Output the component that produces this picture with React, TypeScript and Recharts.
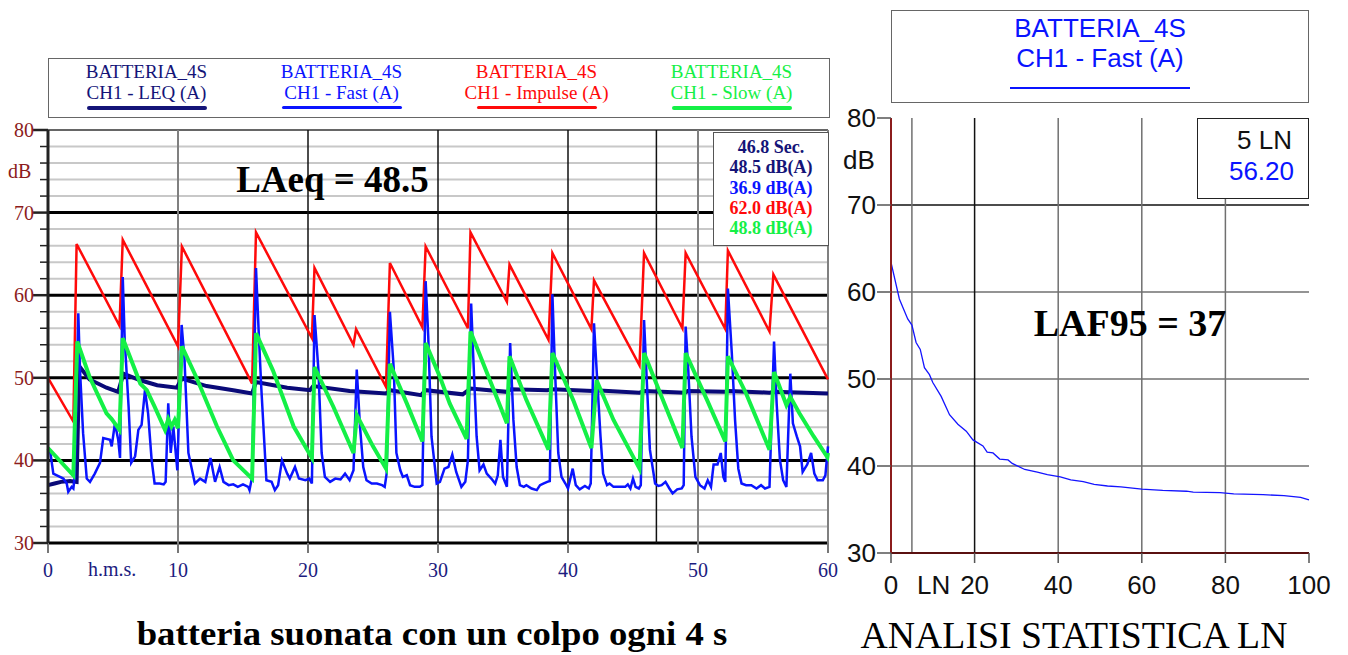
import { CartesianGrid, Line, LineChart, XAxis, YAxis } from 'recharts'

// ---- left chart: time history (t in seconds, level in dB)
const leqPoints = [
  [0, 37.0], [0.5, 37.2], [1.0, 37.4], [1.7, 37.5], [2.2, 37.4], [2.4, 51.4], [3.2, 49.8], [4.5, 48.8],
  [5.4, 48.3], [5.8, 50.5], [7.1, 49.7], [8.4, 49.1], [9.9, 48.8], [10.3, 49.9], [12.2, 49.0], [14.25, 48.5],
  [15.7, 48.1], [16.0, 49.5], [18.4, 48.8], [20.15, 48.5], [20.4, 49.0], [23.2, 48.4], [26.0, 48.1], [26.3, 48.5],
  [28.7, 47.9], [29.05, 48.5], [31.9, 48.0], [32.5, 48.7], [35.3, 48.3], [35.6, 48.6], [38.4, 48.5], [38.8, 48.6],
  [41.9, 48.4], [42.1, 48.5], [45.5, 48.2], [45.9, 48.4], [49.0, 48.2], [49.2, 48.4], [52.1, 48.3], [52.4, 48.4],
  [55.5, 48.2], [55.9, 48.3], [60, 48.1],
]

const impulsePoints = [
  [0, 50.0], [1.95, 44.7], [2.2, 66.2], [5.5, 56.3], [5.75, 66.7], [10.0, 53.8], [10.3, 65.9], [15.7, 49.3],
  [16.0, 67.6], [20.3, 54.8], [20.5, 63.3], [23.5, 54.0], [23.7, 55.9], [26.0, 48.9], [26.3, 63.9], [28.8, 56.1],
  [29.05, 65.9], [32.3, 56.0], [32.5, 67.6], [35.3, 59.2], [35.5, 63.7], [38.5, 54.6], [38.8, 65.1], [41.8, 55.9],
  [42.0, 61.8], [45.5, 51.5], [45.85, 65.1], [48.8, 56.0], [49.05, 65.1], [52.1, 55.9], [52.3, 65.4], [55.5, 55.6],
  [55.8, 62.5], [60, 49.8],
]

const slowPoints = [
  [0, 41.5], [1.95, 38.2], [2.25, 54.4], [3.2, 50.1], [4.5, 45.7], [4.9, 45.0], [5.5, 43.7], [5.75, 54.8],
  [7.1, 49.3], [7.6, 48.5], [8.2, 46.5], [9.0, 43.7], [9.25, 45.0], [9.5, 44.1], [9.75, 44.9], [10.0, 43.9],
  [10.3, 53.8], [11.4, 50.1], [13.0, 44.1], [14.25, 40.0], [15.7, 37.8], [16.0, 55.4], [17.3, 50.9], [18.9, 44.1],
  [20.3, 40.3], [20.5, 51.3], [21.95, 46.5], [23.5, 40.9], [23.75, 45.5], [25.0, 41.7], [26.0, 39.0], [26.3, 51.7],
  [27.6, 46.9], [28.8, 42.3], [29.05, 54.2], [30.15, 50.1], [30.9, 46.9], [32.2, 42.6], [32.5, 55.6], [34.3, 48.5],
  [35.3, 44.5], [35.5, 52.6], [36.8, 47.3], [38.5, 41.3], [38.8, 53.0], [40.4, 47.3], [41.8, 41.5], [42.2, 49.7],
  [43.5, 44.9], [45.5, 39.0], [45.85, 53.0], [47.1, 48.1], [48.8, 41.5], [49.05, 53.0], [50.7, 47.3], [52.1, 42.3],
  [52.3, 52.6], [53.7, 48.1], [55.5, 41.3], [55.85, 50.7], [56.8, 46.7], [57.1, 47.7], [57.8, 45.7], [58.9, 42.9],
  [59.95, 40.4], [60, 40.9],
]

const fastPoints = [
  [0.15, 41.3], [0.41, 38.4], [0.92, 38.0], [1.18, 37.8], [1.44, 37.2], [1.56, 36.2], [1.82, 36.8], [1.95, 36.6],
  [2.05, 38.0], [2.33, 57.8], [2.46, 51.0], [2.7, 43.3], [2.98, 37.8], [3.23, 37.4], [3.6, 38.4], [4.0, 39.7],
  [4.25, 42.7], [4.77, 42.5], [4.9, 41.7], [5.15, 44.5], [5.4, 42.5], [5.54, 40.3], [5.75, 62.2], [5.9, 54.6],
  [6.2, 46.5], [6.4, 39.7], [6.7, 40.5], [6.95, 43.7], [7.2, 44.3], [7.46, 48.5], [7.7, 45.7], [7.97, 40.1],
  [8.2, 37.2], [8.6, 37.2], [8.9, 37.1], [9.05, 37.4], [9.25, 46.9], [9.44, 40.9], [9.64, 44.1], [9.95, 38.8],
  [10.28, 56.4], [10.5, 52.2], [10.8, 40.9], [11.3, 37.2], [11.7, 37.8], [12.1, 37.4], [12.5, 40.3], [12.85, 37.4],
  [13.2, 39.2], [13.5, 37.4], [13.9, 37.0], [14.25, 37.1], [14.6, 36.8], [15.0, 37.1], [15.4, 36.8], [15.5, 36.4],
  [15.7, 38.0], [16.0, 63.3], [16.2, 55.8], [16.4, 49.0], [16.8, 37.6], [17.2, 37.4], [17.45, 36.4], [17.7, 37.0],
  [18.0, 40.0], [18.4, 38.4], [18.6, 37.8], [19.0, 39.2], [19.3, 37.8], [19.8, 37.6], [20.1, 37.8], [20.3, 37.2],
  [20.5, 57.6], [20.8, 51.0], [21.05, 40.9], [21.3, 38.0], [21.7, 37.4], [22.1, 37.8], [22.5, 37.7], [22.85, 38.4],
  [23.2, 37.6], [23.5, 38.8], [23.75, 51.0], [24.0, 44.1], [24.25, 39.2], [24.5, 37.6], [24.9, 37.2], [25.3, 37.2],
  [25.7, 37.0], [25.9, 36.8], [26.05, 38.4], [26.3, 58.0], [26.6, 51.0], [26.8, 40.9], [27.1, 38.8], [27.3, 38.0],
  [27.6, 38.2], [27.85, 37.0], [28.2, 36.8], [28.6, 36.8], [28.8, 37.0], [29.05, 61.7], [29.25, 55.0], [29.5, 42.9],
  [29.9, 37.2], [30.15, 37.4], [30.5, 39.0], [30.8, 39.2], [31.1, 40.7], [31.4, 38.6], [31.8, 36.8], [32.1, 37.4],
  [32.3, 40.0], [32.55, 59.0], [32.7, 53.0], [32.97, 42.9], [33.2, 38.8], [33.5, 39.5], [33.75, 38.4], [34.1, 37.8],
  [34.4, 37.2], [34.6, 38.2], [34.8, 42.5], [35.0, 38.0], [35.3, 36.8], [35.55, 54.2], [35.8, 44.9], [36.05, 39.2],
  [36.3, 37.0], [36.6, 36.8], [36.8, 37.0], [37.2, 36.6], [37.6, 36.4], [37.85, 37.0], [38.1, 37.2], [38.4, 37.4],
  [38.6, 37.5], [38.8, 60.1], [39.0, 51.0], [39.25, 40.9], [39.5, 38.0], [39.8, 37.2], [40.0, 36.6], [40.36, 39.0],
  [40.6, 37.0], [40.9, 36.5], [41.3, 36.9], [41.6, 36.6], [41.75, 37.2], [42.0, 56.6], [42.2, 51.0], [42.5, 42.9],
  [42.7, 38.4], [43.0, 37.0], [43.2, 37.2], [43.5, 36.8], [44.0, 36.8], [44.4, 36.8], [44.6, 37.1], [44.8, 36.6],
  [45.0, 37.8], [45.2, 36.8], [45.45, 36.6], [45.6, 37.0], [45.85, 57.0], [46.05, 50.0], [46.3, 41.3], [46.7, 37.2],
  [46.95, 36.9], [47.2, 37.0], [47.5, 37.4], [47.8, 36.6], [48.05, 36.0], [48.4, 36.5], [48.75, 36.6], [48.9, 37.0],
  [49.05, 56.2], [49.25, 51.0], [49.5, 42.9], [49.8, 38.0], [50.15, 37.0], [50.5, 36.6], [50.75, 37.6], [51.0, 36.8],
  [51.2, 39.5], [51.5, 39.5], [51.75, 40.9], [51.95, 38.0], [52.1, 37.4], [52.3, 60.8], [52.6, 53.0], [52.85, 44.9],
  [53.1, 39.0], [53.35, 37.2], [53.7, 37.0], [54.1, 37.0], [54.5, 36.6], [54.85, 37.0], [55.15, 36.6], [55.5, 36.8],
  [55.85, 54.4], [56.05, 46.9], [56.3, 40.1], [56.55, 37.6], [56.8, 36.8], [57.1, 50.5], [57.3, 44.5], [57.6, 42.9],
  [57.85, 41.7], [58.05, 38.6], [58.4, 39.5], [58.7, 40.9], [58.95, 38.4], [59.2, 37.6], [59.6, 37.6], [59.8, 38.2],
  [60, 41.7],
]

const timeTicks = [0, 10, 20, 30, 40, 50, 60]
const levelTicks = [30, 32, 34, 36, 38, 40, 42, 44, 46, 48, 50, 52, 54, 56, 58, 60, 62, 64, 66, 68, 70, 72, 74, 76, 78, 80]
const timeGridValues = [10, 20, 30, 40, 46.8, 50, 60]
const cursorTime = 46.8

const legendItems = [
  { name: 'CH1 - LEQ (A)', color: '#141478', width: 4 },
  { name: 'CH1 - Fast (A)', color: '#0a14ff', width: 2.5 },
  { name: 'CH1 - Impulse (A)', color: '#ff0a0a', width: 2.5 },
  { name: 'CH1 - Slow (A)', color: '#14f046', width: 4 },
]
const cursorLines = [
  { text: '46.8 Sec.', color: '#141478' },
  { text: '48.5 dB(A)', color: '#141478' },
  { text: '36.9 dB(A)', color: '#0a14ff' },
  { text: '62.0 dB(A)', color: '#ff0a0a' },
  { text: '48.8 dB(A)', color: '#14f046' },
]

// ---- right chart: statistical levels LN
const lnPercent = [0, 2, 4, 5, 6, 7, 8, 9.2, 10, 12, 14, 16, 18, 19.6, 22, 23, 24.4, 26, 28, 29, 32, 35, 37.4, 40.5, 43, 46, 48.6, 51.8, 55, 60, 65, 70.7, 72.3, 78.7, 82, 89, 94, 98, 100]
const lnLevel = [63.4, 59.2, 56.9, 56.2, 54.2, 53.4, 51.3, 50.5, 49.6, 48.0, 45.9, 44.8, 44.0, 43.0, 42.3, 41.6, 41.5, 40.8, 40.7, 40.3, 39.6, 39.3, 39.0, 38.75, 38.4, 38.2, 37.9, 37.7, 37.6, 37.35, 37.2, 37.1, 37.0, 36.95, 36.8, 36.7, 36.6, 36.4, 36.1]
const lnTicksX = [0, 20, 40, 60, 80, 100]
const lnTicksY = [30, 40, 50, 60, 70, 80]
const lnGridX = [5, 20, 40, 60, 80]
const lnGridY = [40, 50, 60, 70]

const SERIF = "'Liberation Serif', 'Times New Roman', serif"
const SANS = "'Liberation Sans', Arial, sans-serif"
const AXIS_RED = '#8c1c1c'
const AXIS_NAVY = '#1c1c80'

const toPts = (arr: number[][]) => arr.map(([t, v]) => ({ t, v }))
const lnData = lnPercent.map((p, i) => ({ p, v: lnLevel[i] }))

const LeftYTick = (props: any) => {
  const { x, y, payload } = props
  const major = payload.value % 10 === 0
  return (
    <g>
      <line x1={x - (major ? 15 : 8)} x2={x} y1={y} y2={y} stroke="#222" strokeWidth={major ? 2.5 : 1.5} />
      {major && (
        <text x={x - 14} y={y} dy={7} textAnchor="end" fill={AXIS_RED} fontSize={20} fontFamily={SERIF}>
          {payload.value}
        </text>
      )}
    </g>
  )
}

const LeftXTick = (props: any) => {
  const { x, y, payload } = props
  return (
    <g>
      <line x1={x} x2={x} y1={y} y2={y + 10} stroke="#777" strokeWidth={2} />
      <text x={x} y={y + 34} textAnchor="middle" fill={AXIS_NAVY} fontSize={20} fontFamily={SERIF}>
        {payload.value}
      </text>
    </g>
  )
}

const leftHLine = (p: any) => {
  const v = levelTicks[p.index]
  const major = v % 10 === 0 && v !== 80
  return (
    <line key={p.key} x1={p.x1} x2={p.x2} y1={p.y1} y2={p.y2}
      stroke={major ? '#000' : v === 80 ? '#666' : '#c8c8c8'} strokeWidth={major ? 3 : 2} />
  )
}

const leftVLine = (p: any) => {
  const v = timeGridValues[p.index]
  const black = v === 20 || v === 30 || v === 40 || v === cursorTime
  return (
    <line key={p.key} x1={p.x1} x2={p.x2} y1={p.y1} y2={p.y2}
      stroke={black ? '#111' : '#808080'} strokeWidth={black ? 1.5 : 2} />
  )
}

const RightYTick = (props: any) => {
  const { x, y, payload } = props
  return (
    <g>
      <line x1={x - 14} x2={x} y1={y} y2={y} stroke="#555" strokeWidth={1.5} />
      <text x={x - 15} y={y} dy={9} textAnchor="end" fill="#111" fontSize={26} fontFamily={SANS}>
        {payload.value}
      </text>
    </g>
  )
}

const RightXTick = (props: any) => {
  const { x, y, payload } = props
  return (
    <g>
      <line x1={x} x2={x} y1={y} y2={y + 10} stroke="#555" strokeWidth={1.5} />
      <text x={x} y={y + 41} textAnchor="middle" fill="#111" fontSize={26} fontFamily={SANS}>
        {payload.value}
      </text>
    </g>
  )
}

const rightHLine = (p: any) => {
  const v = lnGridY[p.index]
  return (
    <line key={p.key} x1={p.x1} x2={p.x2} y1={p.y1} y2={p.y2}
      stroke={v === 70 ? '#111' : '#707070'} strokeWidth={1.5} />
  )
}

const rightVLine = (p: any) => {
  const v = lnGridX[p.index]
  return (
    <line key={p.key} x1={p.x1} x2={p.x2} y1={p.y1} y2={p.y2}
      stroke={v === 20 ? '#111' : '#707070'} strokeWidth={1.5} />
  )
}

const abs = (style: React.CSSProperties): React.CSSProperties => ({ position: 'absolute', margin: 0, ...style })

export default function App() {
  return (
    <div style={{ position: 'fixed', left: 0, top: 0, width: 1348, height: 655, background: '#fff', overflow: 'hidden' }}>
      {/* left legend */}
      <div style={abs({ left: 48, top: 58, width: 780, height: 58, border: '1.5px solid #666', display: 'flex' })}>
        {legendItems.map((item) => (
          <div key={item.name} style={{ width: 195, textAlign: 'center', fontFamily: SERIF, fontSize: 19, color: item.color, lineHeight: '21px', paddingTop: 2 }}>
            <div>BATTERIA_4S</div>
            <div>{item.name}</div>
            <div style={{ width: 120, height: item.width, background: item.color, margin: '3px auto 0', borderRadius: 2 }} />
          </div>
        ))}
      </div>

      <div style={abs({ left: 0, top: 0 })}>
        <LineChart width={850} height={610} margin={{ top: 130, right: 22, bottom: 27, left: 8 }}>
          <CartesianGrid
            horizontalValues={levelTicks}
            verticalValues={timeGridValues}
            horizontal={leftHLine}
            vertical={leftVLine}
          />
          <XAxis type="number" dataKey="t" domain={[0, 60]} ticks={timeTicks} interval={0} height={40}
            axisLine={false} tickLine={false} tickSize={0} tickMargin={0} tick={<LeftXTick />} />
          <YAxis type="number" domain={[30, 80]} ticks={levelTicks} interval={0} width={40}
            axisLine={{ stroke: '#222', strokeWidth: 3 }} tickLine={false} tickSize={0} tickMargin={0} tick={<LeftYTick />} />
          <Line data={toPts(leqPoints)} dataKey="v" type="linear" stroke="#0a0a78" strokeWidth={4} dot={false} isAnimationActive={false} />
          <Line data={toPts(impulsePoints)} dataKey="v" type="linear" stroke="#ff0a0a" strokeWidth={2.5} dot={false} isAnimationActive={false} />
          <Line data={toPts(fastPoints)} dataKey="v" type="linear" stroke="#0a14ff" strokeWidth={2.5} dot={false} isAnimationActive={false} />
          <Line data={toPts(slowPoints)} dataKey="v" type="linear" stroke="#14f046" strokeWidth={4} dot={false} isAnimationActive={false} />
        </LineChart>
      </div>

      <div style={abs({ left: 8, top: 160, fontFamily: SERIF, fontSize: 20, color: AXIS_RED })}>dB</div>
      <div style={abs({ left: 88, top: 558, fontFamily: SERIF, fontSize: 20, color: AXIS_NAVY })}>h.m.s.</div>
      <div style={abs({ left: 200, top: 158, width: 265, textAlign: 'center', fontFamily: SERIF, fontSize: 37, fontWeight: 'bold', color: '#000' })}>
        LAeq = 48.5
      </div>

      {/* cursor values box */}
      <div style={abs({ left: 713, top: 132, width: 114, height: 108, background: '#fff', border: '1.5px solid #555', fontFamily: SERIF, fontWeight: 'bold', fontSize: 18, lineHeight: '20.3px', textAlign: 'center', paddingTop: 4, boxSizing: 'content-box' })}>
        {cursorLines.map((l) => (
          <div key={l.text} style={{ color: l.color }}>{l.text}</div>
        ))}
      </div>

      <div style={abs({ left: 82, top: 617, width: 700, textAlign: 'center', fontFamily: SERIF, fontSize: 34, lineHeight: 1, fontWeight: 'bold', color: '#000', transform: 'scaleX(1.08)' })}>
        batteria suonata con un colpo ogni 4 s
      </div>

      {/* right legend */}
      <div style={abs({ left: 891, top: 10, width: 416, height: 89, border: '1.5px solid #666', textAlign: 'center', fontFamily: SANS, fontSize: 26, color: '#0a14ff', lineHeight: '30px', paddingTop: 2 })}>
        <div>BATTERIA_4S</div>
        <div>CH1 - Fast (A)</div>
        <div style={{ width: 180, height: 1.5, background: '#0a14ff', margin: '14px auto 0' }} />
      </div>

      <div style={abs({ left: 840, top: 0 })}>
        <LineChart width={508} height={610} margin={{ top: 118, right: 39, bottom: 17, left: 6 }}>
          <CartesianGrid
            horizontalValues={lnGridY}
            verticalValues={lnGridX}
            horizontal={rightHLine}
            vertical={rightVLine}
          />
          <XAxis type="number" dataKey="p" domain={[0, 100]} ticks={lnTicksX} interval={0} height={40}
            axisLine={{ stroke: '#5a1010', strokeWidth: 2 }} tickLine={false} tickSize={0} tickMargin={0} tick={<RightXTick />} />
          <XAxis xAxisId="top" orientation="top" type="number" dataKey="p" domain={[0, 100]} height={0}
            axisLine={{ stroke: '#c05050', strokeWidth: 1.5 }} tick={false} tickLine={false} />
          <YAxis type="number" domain={[30, 80]} ticks={lnTicksY} interval={0} width={45}
            axisLine={{ stroke: AXIS_RED, strokeWidth: 2 }} tickLine={false} tickSize={0} tickMargin={0} tick={<RightYTick />} />
          <YAxis yAxisId="right" orientation="right" type="number" domain={[30, 80]} width={0}
            axisLine={{ stroke: AXIS_RED, strokeWidth: 2 }} tick={false} tickLine={false} />
          <Line data={lnData} dataKey="v" type="linear" stroke="#1414ff" strokeWidth={1.3} dot={false} isAnimationActive={false} />
        </LineChart>
      </div>

      <div style={abs({ left: 843, top: 147, fontFamily: SANS, fontSize: 26, lineHeight: 1, color: '#111' })}>dB</div>
      <div style={abs({ left: 917, top: 572, fontFamily: SANS, fontSize: 26, lineHeight: 1, color: '#111' })}>LN</div>

      <div style={abs({ left: 1197, top: 118, width: 110, height: 73, background: '#fff', border: '1px solid #222', fontFamily: SANS, fontSize: 26, lineHeight: '31px', textAlign: 'right', paddingTop: 6 })}>
        <div style={{ color: '#111', paddingRight: 16 }}>5 LN</div>
        <div style={{ color: '#0a14ff', paddingRight: 14 }}>56.20</div>
      </div>

      <div style={abs({ left: 990, top: 304, width: 280, textAlign: 'center', fontFamily: SERIF, fontSize: 38, lineHeight: 1, fontWeight: 'bold', color: '#000' })}>
        LAF95 = 37
      </div>

      <div style={abs({ left: 824, top: 617, width: 500, textAlign: 'center', fontFamily: SERIF, fontSize: 37, lineHeight: 1, color: '#000', transform: 'scaleX(1.02)' })}>
        ANALISI STATISTICA LN
      </div>
    </div>
  )
}
